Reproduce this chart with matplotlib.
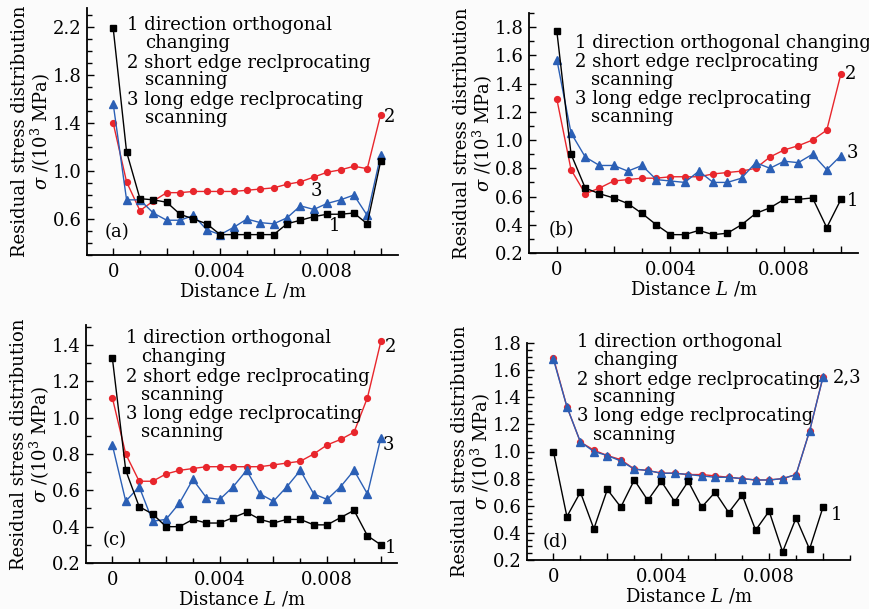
import matplotlib
matplotlib.use('Agg')
import matplotlib.pyplot as plt
from matplotlib.ticker import MultipleLocator, FixedLocator, FuncFormatter

plt.rcParams['font.family'] = ['DejaVu Serif']
plt.rcParams['mathtext.fontset'] = 'dejavuserif'
plt.rcParams['font.size'] = 13

# distance along the track (m)
dist = [0, 0.0005, 0.001, 0.0015, 0.002, 0.0025, 0.003, 0.0035, 0.004, 0.0045, 0.005,
        0.0055, 0.006, 0.0065, 0.007, 0.0075, 0.008, 0.0085, 0.009, 0.0095, 0.01]

# (a)
a_dir = [2.19, 1.16, 0.77, 0.76, 0.74, 0.64, 0.60, 0.56, 0.47, 0.47, 0.47,
         0.47, 0.47, 0.56, 0.59, 0.62, 0.64, 0.64, 0.65, 0.56, 1.08]
a_short = [1.40, 0.91, 0.67, 0.75, 0.82, 0.82, 0.83, 0.83, 0.83, 0.83, 0.84,
           0.85, 0.86, 0.89, 0.91, 0.95, 0.99, 1.01, 1.04, 1.02, 1.47]
a_long = [1.56, 0.76, 0.76, 0.65, 0.59, 0.59, 0.63, 0.51, 0.47, 0.53, 0.60,
          0.57, 0.56, 0.61, 0.71, 0.68, 0.73, 0.76, 0.80, 0.63, 1.13]

# (b)
b_dir = [1.77, 0.90, 0.66, 0.62, 0.59, 0.55, 0.48, 0.40, 0.33, 0.33, 0.36,
         0.33, 0.34, 0.40, 0.48, 0.52, 0.58, 0.58, 0.59, 0.38, 0.58]
b_short = [1.29, 0.79, 0.62, 0.66, 0.71, 0.72, 0.73, 0.73, 0.74, 0.74, 0.74,
           0.76, 0.77, 0.78, 0.80, 0.88, 0.93, 0.96, 1.00, 1.07, 1.47]
b_long = [1.57, 1.05, 0.88, 0.82, 0.82, 0.78, 0.82, 0.72, 0.71, 0.70, 0.78,
          0.70, 0.70, 0.73, 0.84, 0.80, 0.85, 0.84, 0.90, 0.79, 0.89]

# (c)
c_dir = [1.33, 0.71, 0.51, 0.47, 0.40, 0.40, 0.44, 0.42, 0.42, 0.45, 0.48,
         0.44, 0.42, 0.44, 0.44, 0.41, 0.41, 0.45, 0.49, 0.35, 0.30]
c_short = [1.11, 0.80, 0.65, 0.65, 0.69, 0.71, 0.72, 0.73, 0.73, 0.73, 0.73,
           0.73, 0.74, 0.75, 0.76, 0.80, 0.85, 0.88, 0.92, 1.11, 1.42]
c_long = [0.85, 0.54, 0.62, 0.43, 0.44, 0.53, 0.66, 0.56, 0.55, 0.62, 0.71,
          0.58, 0.54, 0.62, 0.71, 0.58, 0.55, 0.62, 0.71, 0.58, 0.89]

# (d)
d_dir = [1.00, 0.52, 0.70, 0.43, 0.72, 0.59, 0.79, 0.64, 0.78, 0.63, 0.78,
         0.59, 0.70, 0.55, 0.68, 0.42, 0.56, 0.26, 0.51, 0.28, 0.59]
d_short = [1.69, 1.33, 1.07, 1.01, 0.97, 0.94, 0.87, 0.86, 0.84, 0.84, 0.83,
           0.83, 0.82, 0.81, 0.80, 0.79, 0.79, 0.80, 0.83, 1.15, 1.55]
d_long = [1.68, 1.33, 1.07, 1.00, 0.97, 0.93, 0.87, 0.86, 0.84, 0.84, 0.83,
          0.82, 0.81, 0.81, 0.80, 0.79, 0.79, 0.80, 0.83, 1.15, 1.55]

legend_lines = ['1 direction orthogonal', 'changing', '2 short edge reclprocating',
                'scanning', '3 long edge reclprocating', 'scanning']

W, H = 870, 609
fig = plt.figure(figsize=(W / 100, H / 100), dpi=100)
fig.patch.set_facecolor('#fbfbfb')

RED = '#e8262c'
BLUE = '#2b5fb5'


def xfmt(v, pos):
    if abs(v) < 1e-9:
        return '0'
    if abs(round(v / 0.004) * 0.004 - v) < 1e-9:
        return '%.3f' % v
    return ''


def panel(box, ylim, yticks, ymin, xmax, dirv, shortv, longv, tag, tagpos):
    l, t, r, b = box
    ax = fig.add_axes([l / W, 1 - b / H, (r - l) / W, (b - t) / H])
    ax.set_facecolor('#fbfbfb')
    ax.plot(dist, shortv, color=RED, lw=1.0, marker='o', ms=4.2, zorder=3)
    ax.plot(dist, longv, color=BLUE, lw=1.0, marker='^', ms=5.5, zorder=4)
    ax.plot(dist, dirv, color='black', lw=1.0, marker='s', ms=4.8, zorder=5)
    ax.set_xlim(-0.00098, xmax)
    ax.set_ylim(*ylim)
    ax.spines['top'].set_visible(False)
    ax.spines['right'].set_visible(False)
    ax.spines['left'].set_linewidth(1.3)
    ax.spines['bottom'].set_linewidth(1.3)
    ax.xaxis.set_major_locator(MultipleLocator(0.002))
    ax.xaxis.set_minor_locator(MultipleLocator(0.001))
    ax.xaxis.set_major_formatter(FuncFormatter(xfmt))
    ax.yaxis.set_major_locator(FixedLocator(yticks))
    ax.yaxis.set_minor_locator(MultipleLocator(ymin))
    ax.yaxis.set_major_formatter(FuncFormatter(lambda v, p: '%.1f' % v))
    ax.tick_params(which='both', direction='in', width=1.0)
    ax.tick_params(which='major', length=5)
    ax.tick_params(which='minor', length=3.5)
    ax.tick_params(axis='x', pad=5.5)
    ax.tick_params(axis='y', pad=4)
    ax.set_xlabel(r'Distance $L$ /m', labelpad=0.5)
    ax.set_ylabel('Residual stress distribution\n' + r'$\sigma$ /(10$^3$ MPa)',
                  linespacing=1.0, labelpad=-0.5)
    ax.text(tagpos[0], tagpos[1], tag, transform=ax.transAxes, ha='center', va='center')
    return ax


def legend(x0, x1, ys, lines):
    for y, s in zip(ys, lines):
        x = x0 if s[0].isdigit() else x1
        fig.text(x / W, 1 - y / H, s, ha='left', va='center')


# (a)
ax = panel((87, 8, 398, 255), (0.3, 2.36), [0.6, 1.0, 1.4, 1.8, 2.2], 0.1, 0.01065,
           a_dir, a_short, a_long, '(a)', (0.098, 0.094))
ax.text(0.01035, 1.45, '2', ha='center', va='center')
ax.text(0.00761, 0.83, '3', ha='center', va='center')
ax.text(0.00827, 0.54, '1', ha='center', va='center')
legend(127, 145, [25, 43.3, 63.3, 80, 100, 118.3], legend_lines)

# (b)
ax = panel((529, 13, 858, 253), (0.2, 1.9), [0.2, 0.4, 0.6, 0.8, 1.0, 1.2, 1.4, 1.6, 1.8],
           0.1, 0.0106, b_dir, b_short, b_long, '(b)', (0.099, 0.096))
ax.text(0.01035, 1.47, '2', ha='center', va='center')
ax.text(0.0104, 0.91, '3', ha='center', va='center')
ax.text(0.0104, 0.57, '1', ha='center', va='center')
legend(575, 591, [43.3, 61.7, 80, 99.3, 116.7],
       ['1 direction orthogonal changing'] + legend_lines[2:])

# (c)
ax = panel((86, 325, 397, 563), (0.2, 1.51), [0.2, 0.4, 0.6, 0.8, 1.0, 1.2, 1.4],
           0.1, 0.0106, c_dir, c_short, c_long, '(c)', (0.093, 0.097))
ax.text(0.01035, 1.39, '2', ha='center', va='center')
ax.text(0.01028, 0.85, '3', ha='center', va='center')
ax.text(0.01035, 0.28, '1', ha='center', va='center')
legend(126, 141, [338.3, 356.7, 376.7, 395, 414, 431.7], legend_lines)

# (d)
ax = panel((527, 343, 850, 560), (0.2, 1.8), [0.2, 0.4, 0.6, 0.8, 1.0, 1.2, 1.4, 1.6, 1.8],
           0.05, 0.011, d_dir, d_short, d_long, '(d)', (0.087, 0.084))
ax.text(0.01035, 1.55, '2,3', ha='left', va='center')
ax.text(0.0105, 0.53, '1', ha='center', va='center')
legend(577, 593, [341.7, 360, 380, 397.3, 416, 435], legend_lines)

fig.savefig('out.png', dpi=100, facecolor=fig.get_facecolor())
